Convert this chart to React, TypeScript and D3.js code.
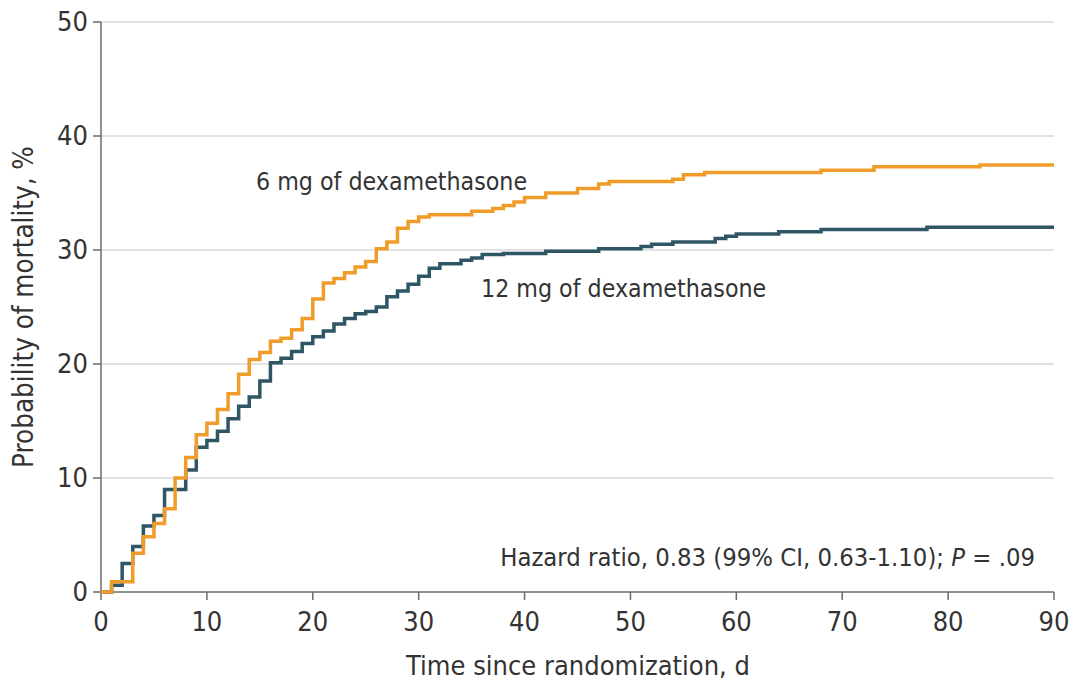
import React from "react";
import * as d3 from "d3";

const xTicks = [0, 10, 20, 30, 40, 50, 60, 70, 80, 90];
const yTicks = [0, 10, 20, 30, 40, 50];

const days6 = [0, 1, 3, 4, 5, 6, 7, 8, 9, 10, 11, 12, 13, 14, 15, 16, 17, 18, 19, 20, 21, 22, 23, 24, 25, 26, 27, 28, 29, 30, 31, 35, 37, 38, 39, 40, 42, 45, 47, 48, 54, 55, 57, 68, 73, 83, 90];
const mort6 = [0, 0.9, 3.4, 4.85, 6.0, 7.3, 10.0, 11.8, 13.8, 14.8, 16.0, 17.4, 19.1, 20.4, 21.0, 22.0, 22.25, 23.0, 24.0, 25.7, 27.1, 27.5, 28.0, 28.5, 29.0, 30.1, 30.7, 31.9, 32.5, 32.9, 33.1, 33.4, 33.65, 33.9, 34.2, 34.6, 35.0, 35.4, 35.8, 36.0, 36.2, 36.6, 36.8, 37.0, 37.3, 37.45, 37.45];

const days12 = [0, 1, 2, 3, 4, 5, 6, 8, 9, 10, 11, 12, 13, 14, 15, 16, 17, 18, 19, 20, 21, 22, 23, 24, 25, 26, 27, 28, 29, 30, 31, 32, 34, 35, 36, 38, 42, 47, 51, 52, 54, 58, 59, 60, 64, 68, 78, 90];
const mort12 = [0, 0.6, 2.5, 4.0, 5.8, 6.7, 9.0, 10.7, 12.7, 13.3, 14.1, 15.2, 16.3, 17.1, 18.5, 20.1, 20.5, 21.1, 21.8, 22.4, 22.9, 23.5, 24.0, 24.4, 24.6, 25.0, 25.9, 26.4, 27.0, 27.7, 28.4, 28.8, 29.1, 29.3, 29.6, 29.7, 29.9, 30.1, 30.3, 30.5, 30.7, 31.0, 31.2, 31.4, 31.6, 31.8, 32.0, 32.0];

const label6 = "6 mg of dexamethasone";
const label12 = "12 mg of dexamethasone";
const xTitle = "Time since randomization, d";
const yTitle = "Probability of mortality, %";

const W = 1076;
const H = 683;
const FONT = "'DejaVu Sans Condensed', 'Liberation Sans Narrow', sans-serif";
const ORANGE = "#F09C2A";
const DARK = "#2F5665";
const TEXT = "#333333";

export default function App() {
  const x = d3.scaleLinear().domain([0, 90]).range([101, 1054]);
  const y = d3.scaleLinear().domain([0, 50]).range([592, 22]);
  const line = d3
    .line<[number, number]>()
    .x((d) => x(d[0]))
    .y((d) => y(d[1]))
    .curve(d3.curveStepAfter);
  const s6 = days6.map((d, i) => [d, mort6[i]] as [number, number]);
  const s12 = days12.map((d, i) => [d, mort12[i]] as [number, number]);

  return (
    <svg width={W} height={H} style={{ position: "absolute", left: 0, top: 0, background: "#fff" }} fontFamily={FONT}>
      {yTicks.filter((t) => t > 0).map((t) => (
        <line key={"g" + t} x1={x(0)} x2={x(90)} y1={y(t)} y2={y(t)} stroke="#d9d9d9" strokeWidth={1.5} />
      ))}
      <line x1={x(0)} x2={x(0)} y1={y(50)} y2={y(0)} stroke="#6b6b6b" strokeWidth={1.5} />
      <line x1={x(0)} x2={x(90)} y1={y(0)} y2={y(0)} stroke="#6b6b6b" strokeWidth={1.5} />
      {yTicks.map((t) => (
        <g key={"y" + t}>
          <line x1={x(0) - 8} x2={x(0)} y1={y(t)} y2={y(t)} stroke="#6b6b6b" strokeWidth={1.5} />
          <text x={x(0) - 13} y={y(t)} dy="0.35em" textAnchor="end" fontSize={27} fill={TEXT}>
            {t}
          </text>
        </g>
      ))}
      {xTicks.map((t) => (
        <g key={"x" + t}>
          <line x1={x(t)} x2={x(t)} y1={y(0)} y2={y(0) + 8} stroke="#6b6b6b" strokeWidth={1.5} />
          <text x={x(t)} y={631} textAnchor="middle" fontSize={27} fill={TEXT}>
            {t}
          </text>
        </g>
      ))}
      <text x={578} y={675} textAnchor="middle" fontSize={27} fill={TEXT}>
        {xTitle}
      </text>
      <text transform={`translate(33, 307) rotate(-90)`} textAnchor="middle" fontSize={27.5} fill={TEXT}>
        {yTitle}
      </text>
      <path d={line(s12) || ""} fill="none" stroke={DARK} strokeWidth={3.5} />
      <path d={line(s6) || ""} fill="none" stroke={ORANGE} strokeWidth={3.5} />
      <text x={256} y={190} fontSize={24.7} fill={TEXT}>
        {label6}
      </text>
      <text x={481} y={297} fontSize={24.7} fill={TEXT}>
        {label12}
      </text>
      <text x={1035} y={566} textAnchor="end" fontSize={25.4} fill={TEXT}>
        Hazard ratio, 0.83 (99% CI, 0.63-1.10); <tspan fontStyle="italic">P</tspan> = .09
      </text>
    </svg>
  );
}
